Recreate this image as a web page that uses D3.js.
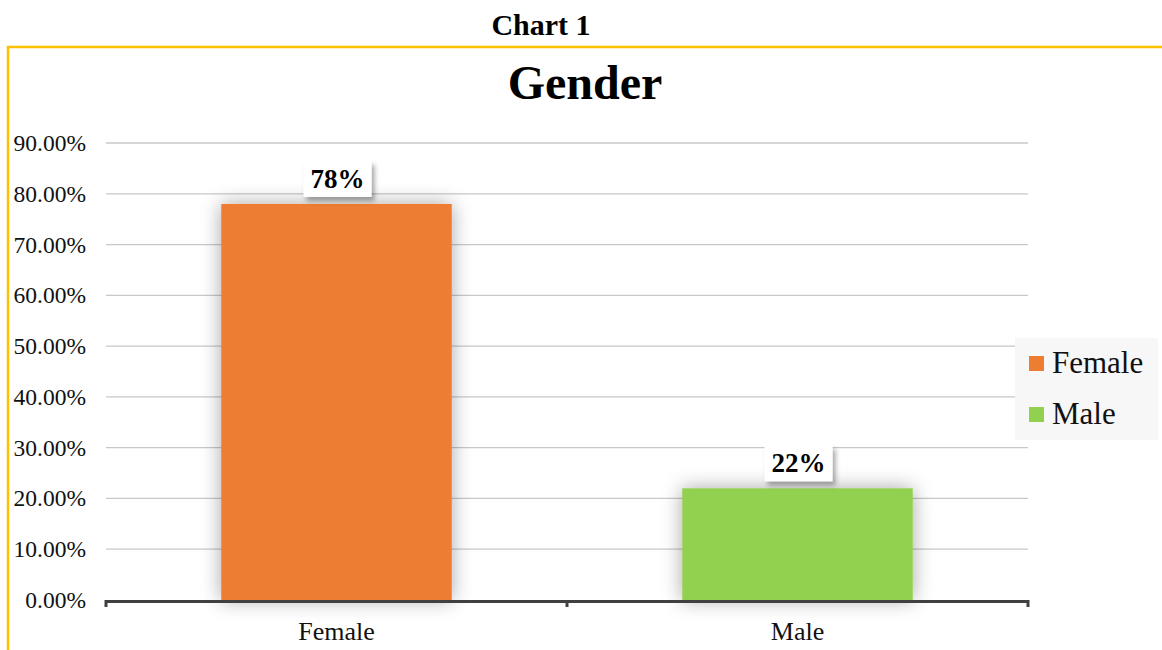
<!DOCTYPE html>
<html>
<head>
<meta charset="utf-8">
<title>Gender</title>
<script src="https://d3js.org/d3.v7.min.js"></script>
<style>
  body { margin: 0; background: #fff; }
  text { font-family: "Liberation Serif", "Times New Roman", serif; }
</style>
</head>
<body>
<svg id="chart" width="1162" height="650"></svg>
<script>
// data
var categories = ["Female", "Male"];
var values = [0.78, 0.22];
var labels = ["78%", "22%"];
var colors = ["#ED7D31", "#92D050"];
var yTicks = [0, 0.1, 0.2, 0.3, 0.4, 0.5, 0.6, 0.7, 0.8, 0.9];

var svg = d3.select("#chart");
var W = 1162, H = 650;
var plotLeft = 106, plotRight = 1028, plotTop = 143, plotBottom = 600;

var defs = svg.append("defs");
var f = defs.append("filter").attr("id", "glow")
  .attr("x", "-20%").attr("y", "-20%").attr("width", "140%").attr("height", "140%");
f.append("feDropShadow").attr("dx", 0).attr("dy", 0).attr("stdDeviation", 10)
  .attr("flood-color", "#000").attr("flood-opacity", 0.35);
var f2 = defs.append("filter").attr("id", "boxshadow")
  .attr("x", "-30%").attr("y", "-30%").attr("width", "170%").attr("height", "180%");
f2.append("feDropShadow").attr("dx", 3).attr("dy", 4).attr("stdDeviation", 2.5)
  .attr("flood-color", "#000").attr("flood-opacity", 0.35);

// frame
svg.append("path")
  .attr("d", "M8," + H + "V47H" + W)
  .attr("fill", "none").attr("stroke", "#FFC000").attr("stroke-width", 2.5);

svg.append("text").attr("x", 541).attr("y", 35).attr("text-anchor", "middle")
  .attr("font-size", 30).attr("font-weight", "bold").text("Chart 1");

svg.append("text").attr("x", 585).attr("y", 99).attr("text-anchor", "middle")
  .attr("font-size", 48).attr("font-weight", "bold").text("Gender");

var x = d3.scaleBand().domain(categories).range([plotLeft, plotRight]).paddingInner(0.5).paddingOuter(0.25);
var y = d3.scaleLinear().domain([0, 0.9]).range([plotBottom, plotTop]);

// gridlines
svg.append("g").selectAll("line").data(yTicks.slice(1)).join("line")
  .attr("x1", plotLeft).attr("x2", plotRight)
  .attr("y1", function (d) { return y(d); }).attr("y2", function (d) { return y(d); })
  .attr("stroke", "#c8c8c8").attr("stroke-width", 1.3);

// y labels
svg.append("g").selectAll("text").data(yTicks).join("text")
  .attr("x", 86).attr("y", function (d) { return y(d) + 8; })
  .attr("text-anchor", "end").attr("font-size", 23.5).attr("fill", "#111")
  .text(function (d) { return d3.format(".2%")(d); });

// bars
svg.append("g").selectAll("rect").data(values).join("rect")
  .attr("x", function (d, i) { return x(categories[i]); })
  .attr("width", x.bandwidth())
  .attr("y", function (d) { return y(d); })
  .attr("height", function (d) { return plotBottom - y(d); })
  .attr("fill", function (d, i) { return colors[i]; })
  .attr("filter", "url(#glow)");

// x axis
var xAxis = d3.axisBottom(x).tickSize(0).tickFormat("");
var ax = svg.append("g").attr("transform", "translate(0," + (plotBottom + 1) + ")").call(xAxis);
ax.select(".domain").attr("stroke", "#404040").attr("stroke-width", 3);
ax.selectAll(".tick").remove();
svg.append("g").selectAll("line").data([plotLeft, (plotLeft + plotRight) / 2, plotRight]).join("line")
  .attr("x1", function (d) { return d; }).attr("x2", function (d) { return d; })
  .attr("y1", plotBottom).attr("y2", plotBottom + 7)
  .attr("stroke", "#404040").attr("stroke-width", 3);

svg.append("g").selectAll("text").data(categories).join("text")
  .attr("x", function (d) { return x(d) + x.bandwidth() / 2; })
  .attr("y", 640).attr("text-anchor", "middle").attr("font-size", 26).attr("fill", "#111")
  .text(function (d) { return d; });

// data labels
var dl = svg.append("g").selectAll("g").data(values).join("g")
  .attr("transform", function (d, i) {
    return "translate(" + (x(categories[i]) + x.bandwidth() / 2 + 1) + "," + (y(d) - 24) + ")";
  });
dl.append("rect").attr("x", -34).attr("y", -19).attr("width", 68).attr("height", 36)
  .attr("fill", "#fff").attr("filter", "url(#boxshadow)");
dl.append("text").attr("text-anchor", "middle").attr("y", 8)
  .attr("font-size", 27).attr("font-weight", "bold")
  .text(function (d, i) { return labels[i]; });

// legend
var lg = svg.append("g").attr("transform", "translate(1015,338)");
lg.append("rect").attr("width", 143).attr("height", 102).attr("fill", "#f7f7f7");
var li = lg.selectAll("g").data(categories).join("g")
  .attr("transform", function (d, i) { return "translate(14," + (25 + i * 51) + ")"; });
li.append("rect").attr("x", 0).attr("y", -7).attr("width", 15).attr("height", 15)
  .attr("fill", function (d, i) { return colors[i]; });
li.append("text").attr("x", 23).attr("y", 10).attr("font-size", 31).attr("fill", "#111")
  .text(function (d) { return d; });
</script>
</body>
</html>
